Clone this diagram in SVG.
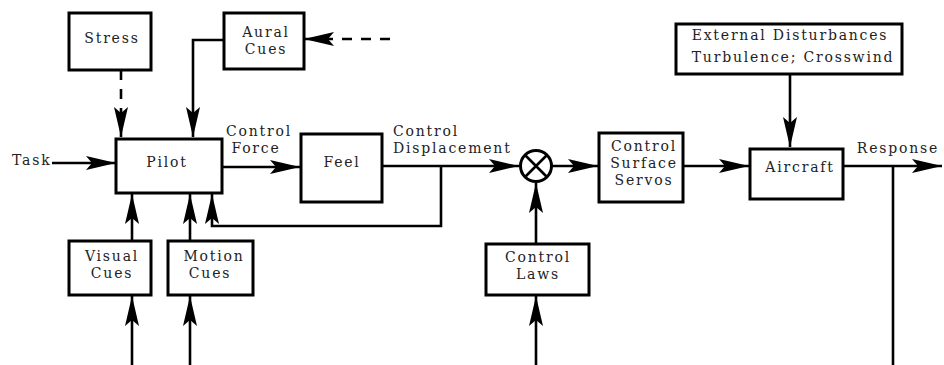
<svg xmlns="http://www.w3.org/2000/svg" width="944" height="365" viewBox="0 0 944 365">
<defs>
<marker id="ah" viewBox="0 0 30 14" refX="30" refY="7" markerWidth="30" markerHeight="14" markerUnits="userSpaceOnUse" orient="auto">
<path d="M0,0 L30,7 L0,14 L6,7 Z" fill="#000"/>
</marker>
<style>
.box{fill:#fff;stroke:#000;stroke-width:3}
.ln{fill:none;stroke:#000;stroke-width:2.6}
.dash{stroke-dasharray:10 9}
.t{font-family:"DejaVu Serif",serif;font-size:14px;letter-spacing:1.8px;fill:#222;text-anchor:middle;dominant-baseline:central}
.lt{text-anchor:start}
</style>
</defs>
<g id="connectors">
<path class="ln dash" d="M121,70 V137" marker-end="url(#ah)"/>
<path class="ln dash" d="M390,39 H304" marker-end="url(#ah)"/>
<path class="ln" d="M224,40 H193 V137" marker-end="url(#ah)"/>
<path class="ln" d="M52,163 H116" marker-end="url(#ah)"/>
<path class="ln" d="M222,167 H300" marker-end="url(#ah)"/>
<path class="ln" d="M382,166 H519" marker-end="url(#ah)"/>
<path class="ln" d="M441,166 V226 H212 V194" marker-end="url(#ah)"/>
<path class="ln" d="M552,166 H598" marker-end="url(#ah)"/>
<path class="ln" d="M683,166 H749" marker-end="url(#ah)"/>
<path class="ln" d="M790,74 V147" marker-end="url(#ah)"/>
<path class="ln" d="M843,166 H942" marker-end="url(#ah)"/>
<path class="ln" d="M893,166 V365"/>
<path class="ln" d="M536,244 V183" marker-end="url(#ah)"/>
<path class="ln" d="M536,365 V296" marker-end="url(#ah)"/>
<path class="ln" d="M132,241 V194" marker-end="url(#ah)"/>
<path class="ln" d="M132,365 V296" marker-end="url(#ah)"/>
<path class="ln" d="M190,241 V194" marker-end="url(#ah)"/>
<path class="ln" d="M190,365 V296" marker-end="url(#ah)"/>
<text class="t lt" x="12" y="160">Task</text>
<text class="t" x="259" y="131">Control</text>
<text class="t" x="256" y="148">Force</text>
<text class="t lt" x="393" y="131">Control</text>
<text class="t lt" x="393" y="148">Displacement</text>
<text class="t" x="898" y="148">Response</text>
</g>
<g id="stress"><rect class="box" x="69" y="13" width="82" height="57"/><text class="t" x="112" y="38">Stress</text></g>
<g id="aural"><rect class="box" x="224" y="13" width="80" height="56"/><text class="t" x="266" y="32">Aural</text><text class="t" x="266" y="49">Cues</text></g>
<g id="pilot"><rect class="box" x="116" y="139" width="106" height="54"/><text class="t" x="167" y="162">Pilot</text></g>
<g id="feel"><rect class="box" x="301" y="134" width="81" height="68"/><text class="t" x="342" y="162">Feel</text></g>
<g id="junction"><circle cx="536" cy="166" r="15.5" fill="#fff" stroke="#000" stroke-width="3"/><path class="ln" stroke-width="3" d="M525,155 L547,177 M547,155 L525,177"/></g>
<g id="servos"><rect class="box" x="599" y="133" width="84" height="69"/><text class="t" x="644" y="146">Control</text><text class="t" x="644" y="163">Surface</text><text class="t" x="644" y="180">Servos</text></g>
<g id="disturb"><rect class="box" x="676" y="24" width="226" height="50"/><text class="t" x="790" y="35">External Disturbances</text><text class="t" x="793" y="57">Turbulence; Crosswind</text></g>
<g id="aircraft"><rect class="box" x="750" y="149" width="93" height="50"/><text class="t" x="800" y="167">Aircraft</text></g>
<g id="visual"><rect class="box" x="69" y="241" width="82" height="54"/><text class="t" x="112" y="256">Visual</text><text class="t" x="112" y="273">Cues</text></g>
<g id="motion"><rect class="box" x="168" y="241" width="85" height="54"/><text class="t" x="214" y="256">Motion</text><text class="t" x="210" y="273">Cues</text></g>
<g id="laws"><rect class="box" x="486" y="244" width="103" height="51"/><text class="t" x="538" y="257">Control</text><text class="t" x="538" y="274">Laws</text></g>
</svg>
